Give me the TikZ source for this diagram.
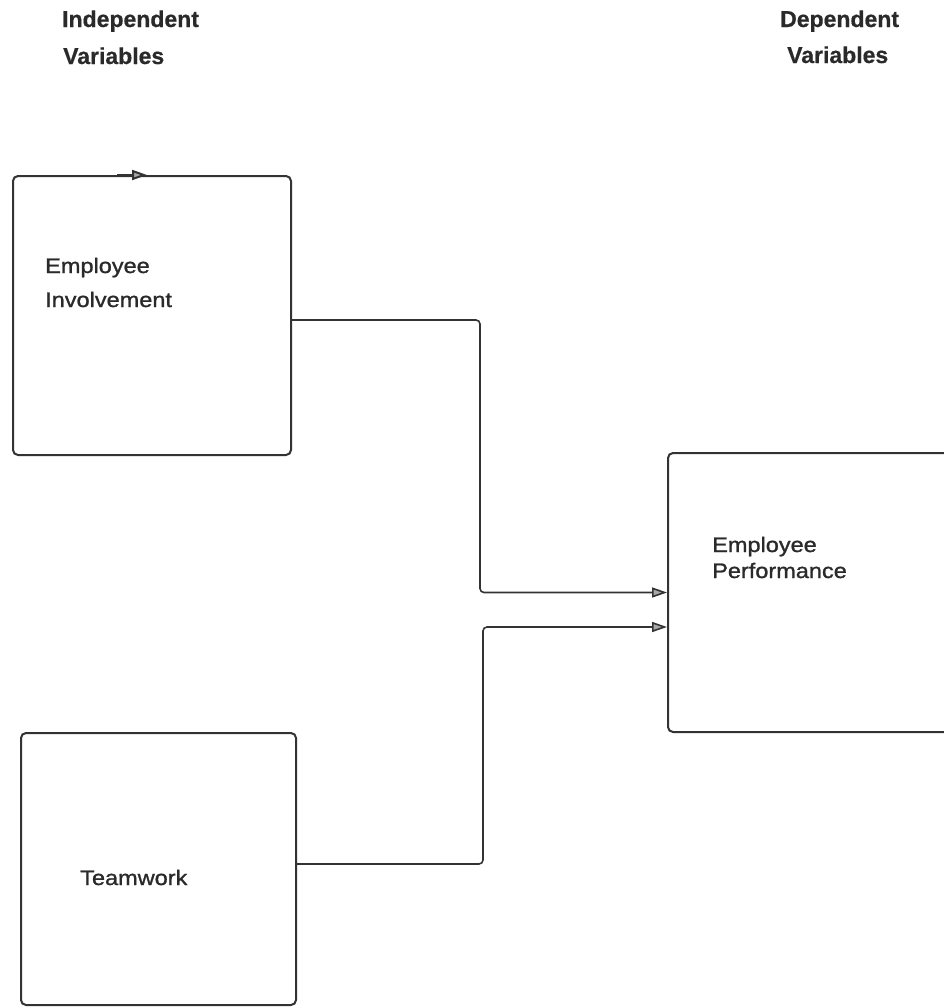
\documentclass[tikz,border=0pt]{standalone}
\usepackage{fontspec}
\setmainfont{Liberation Sans}
\newfontfamily\boxfont[FakeStretch=1.12,FakeBold=1.2]{Liberation Sans}
\newfontfamily\headfont[FakeBold=0.6]{Liberation Sans}
\usetikzlibrary{arrows.meta,calc}
\definecolor{ink}{HTML}{333333}
\definecolor{txt}{HTML}{2A2A2A}
\definecolor{tipfill}{HTML}{A8A8A8}
\tikzset{
  varbox/.style={draw=ink, line width=2pt, rounded corners=5pt, inner sep=0pt},
  conn/.style={draw=ink, line width=1.6pt, rounded corners=4pt,
    -{Triangle[length=15pt,width=10pt,fill=tipfill]}},
  headtxt/.style={anchor=base west, inner sep=0pt, text=txt,
    font=\headfont\fontsize{23}{27}\selectfont\bfseries},
  boxtxt/.style={anchor=base west, inner sep=0pt, text=txt,
    font=\boxfont\fontsize{21}{25}\selectfont},
}
\begin{document}
\begin{tikzpicture}[x=1pt,y=-1pt]
\useasboundingbox (0,0) rectangle (944,1007);
% header texts
\node[headtxt] (h1) at (62,27) {Independent};
\node[headtxt] (h2) at (63,64) {Variables};
\node[headtxt] (h3) at (780,27) {Dependent};
\node[headtxt] (h4) at (787,63) {Variables};
% boxes
\node[varbox, minimum width=278, minimum height=279] (b1) at (152,315.5) {};
\node[varbox, minimum width=275, minimum height=272] (b2) at (158.5,869) {};
\node[varbox, minimum width=292, minimum height=279] (b3) at (814,592.5) {};
% box texts
\node[boxtxt] (t1) at (45,273) {Employee};
\node[boxtxt] (t2) at (45,307) {Involvement};
\node[boxtxt] (t3) at (80,885) {Teamwork};
\node[boxtxt] (t4) at (712,552) {Employee};
\node[boxtxt] (t5) at (712,578) {Performance};
% small arrow mark on top edge of first box
\coordinate (m1) at ($(b1.north west)+(105,0)$);
\coordinate (m2) at ($(b1.north west)+(135,0)$);
\draw[draw=ink, line width=2pt, -{Triangle[length=15pt,width=10pt,fill=tipfill]}] (m1) -- (m2);
% connectors
\coordinate (o1) at ($(b1.east)+(0,4.5)$);
\coordinate (j1) at (480,450);
\coordinate (i2) at ($(b3.west)+(0,34.5)$);
\coordinate (o2) at ($(b2.east)+(0,-5)$);
\coordinate (j2) at (483,750);
\draw[conn] (o1) -| (j1) |- (b3.west);
\draw[conn] (o2) -| (j2) |- (i2);
\end{tikzpicture}
\end{document}
